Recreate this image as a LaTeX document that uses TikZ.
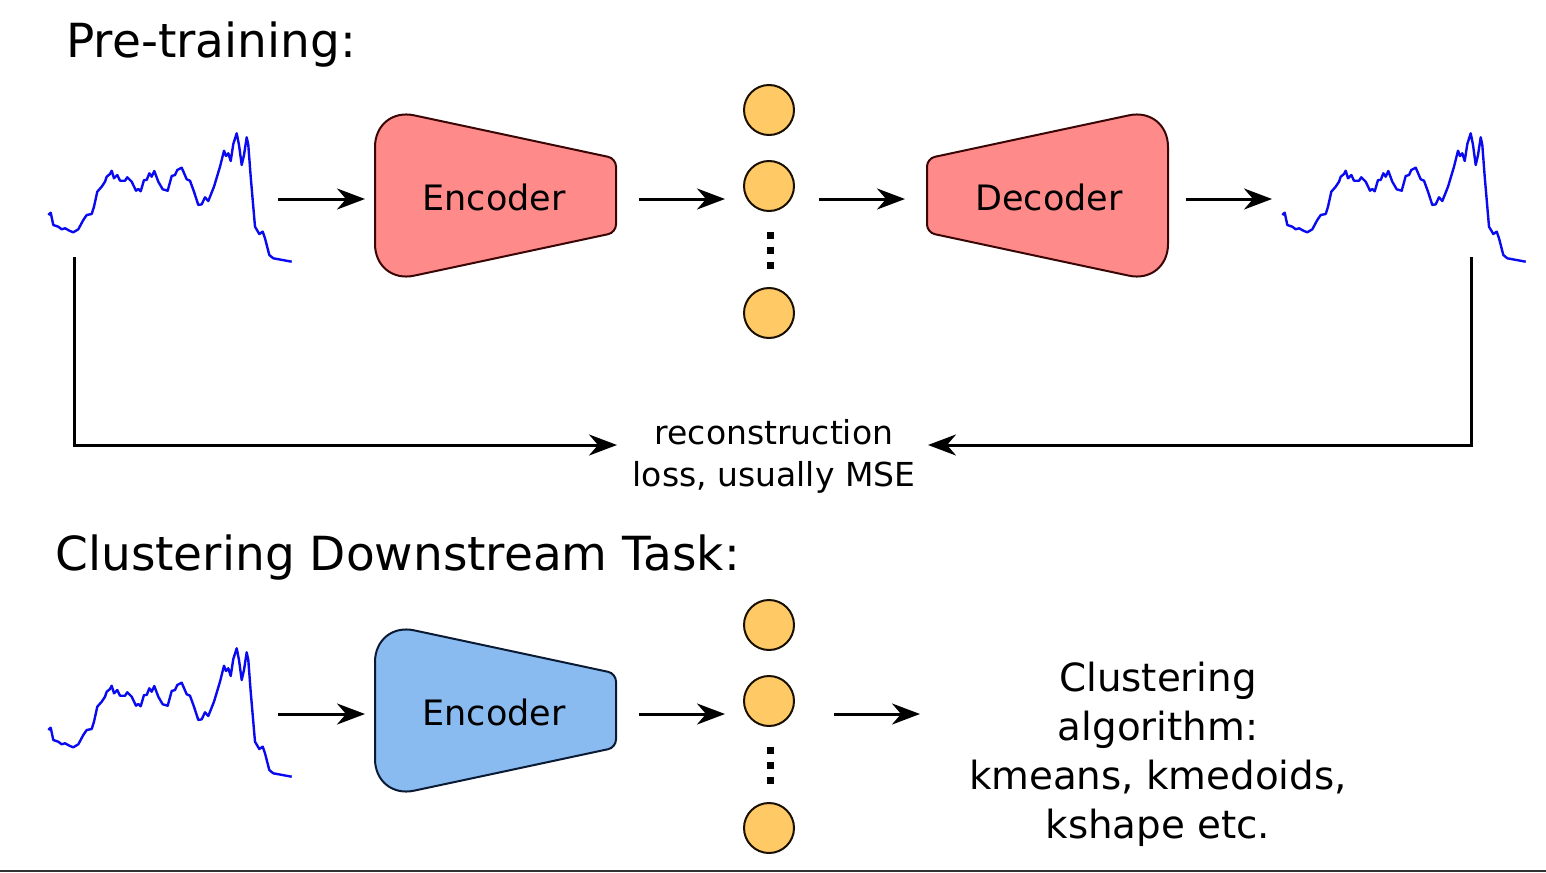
\documentclass[tikz,border=0pt]{standalone}
\usepackage{fontspec}
\setmainfont{DejaVu Sans}
\usetikzlibrary{arrows.meta}
\definecolor{encred}{HTML}{FF8A8A}
\definecolor{encredline}{HTML}{3A0505}
\definecolor{encblue}{HTML}{8ABBF0}
\definecolor{encblueline}{HTML}{0A1A33}
\definecolor{latent}{HTML}{FFC966}
\definecolor{latentline}{HTML}{1A1000}
\definecolor{sigblue}{HTML}{0A0AF0}
\tikzset{
  flow/.style={line width=1.5pt,-{Stealth[length=14pt,width=10.5pt,inset=4.5pt]}},
  lossline/.style={line width=1.5pt,-{Stealth[length=14pt,width=10.5pt,inset=4.5pt]}},
  latentnode/.style={circle,draw=latentline,fill=latent,line width=1pt,minimum size=25pt,inner sep=0pt},
  dotsq/.style={rectangle,fill=black,minimum size=3.5pt,inner sep=0pt},
  boxlabel/.style={font=\fontsize{17.5pt}{20pt}\selectfont,inner sep=0pt},
  title/.style={font=\fontsize{23.5pt}{27pt}\selectfont,anchor=base west,inner sep=0pt},
  signal/.pic={
    \draw[sigblue,line width=1.2pt,line join=round] plot coordinates {
      (48.3,215) (50.7,212.7) (53.3,225) (58.3,226.7) (61.7,229.3) (65,228.3)
      (70,231) (73.3,232.3) (78.3,229.3) (83.3,220) (86.7,215) (91.7,214)
      (94,206.7) (97.3,191.7) (101.7,186.7) (105,181.7) (106.7,176.7) (110,174)
      (111.7,170.7) (114,178.3) (117.3,175) (120,180.7) (125,180.7) (127.3,177.3)
      (131.7,181.7) (136,190.7) (138.3,189) (140.7,191.3) (144,180) (146.7,180)
      (149.3,173.3) (151.7,176.7) (154.3,171) (158.3,181.7) (162.7,189.3)
      (167.7,190.7) (171.7,176) (175,175) (177.3,170) (181.7,167.7) (186.7,179.3)
      (190,180.7) (194,191.7) (198.3,205) (201.7,204.3) (205,197.3) (208.3,201)
      (214,186.7) (220,166.7) (224,150.7) (226,156) (228.3,153.3) (230.7,161)
      (233.3,144) (236.7,133.3) (239,145) (241.7,165) (244,155) (246.7,137.3)
      (248.3,145) (250.7,176.7) (255,226.7) (259.3,234) (262.7,231.7) (265,238.3)
      (269.3,255) (273.3,258.3) (291.7,261.7)};
  }
}
\begin{document}
\begin{tikzpicture}[x=0.5pt,y=-0.5pt]
\useasboundingbox (0,0) rectangle (1546,872);
% titles
\node[title] (t1) at (66,58) {Pre-training:};
\node[title] (t2) at (55,570) {Clustering Downstream Task:};
% signals
\pic at (0,0) {signal};
\pic at (1234,0) {signal};
\pic at (0,515) {signal};
% top encoder
\draw[fill=encred,draw=encredline,line width=1pt]
  (375,195.5) [rounded corners=20pt] -- (375,107) -- (496,132.8)
  [rounded corners=4pt] -- (616,158.5) -- (616,232.5) -- (496,258.2)
  [rounded corners=20pt] -- (375,284) -- cycle;
\node[boxlabel] (enc1) at (494,197) {Encoder};
% decoder
\draw[fill=encred,draw=encredline,line width=1pt]
  (1168,195.5) [rounded corners=20pt] -- (1168,107) -- (1047,132.8)
  [rounded corners=4pt] -- (927,158.5) -- (927,232.5) -- (1047,258.2)
  [rounded corners=20pt] -- (1168,284) -- cycle;
\node[boxlabel] (dec1) at (1049,197) {Decoder};
% bottom encoder
\draw[fill=encblue,draw=encblueline,line width=1pt]
  (375,710.5) [rounded corners=20pt] -- (375,622) -- (496,647.8)
  [rounded corners=4pt] -- (616,673.5) -- (616,747.5) -- (496,773.2)
  [rounded corners=20pt] -- (375,799) -- cycle;
\node[boxlabel] (enc2) at (494,712) {Encoder};
% latent nodes top
\node[latentnode] (z1) at (769,110) {};
\node[latentnode] (z2) at (769,186) {};
\node[latentnode] (z3) at (769,313) {};
\node[dotsq] (d1) at (770,235) {};
\node[dotsq] (d2) at (770,250) {};
\node[dotsq] (d3) at (770,265) {};
% latent nodes bottom
\node[latentnode] (w1) at (769,625) {};
\node[latentnode] (w2) at (769,701) {};
\node[latentnode] (w3) at (769,828) {};
\node[dotsq] (e1) at (770,750) {};
\node[dotsq] (e2) at (770,765) {};
\node[dotsq] (e3) at (770,780) {};
% arrow coordinates
\coordinate (a1s) at (278,199); \coordinate (a1e) at (365,199);
\coordinate (a2s) at (639,199); \coordinate (a2e) at (725,199);
\coordinate (a3s) at (819,199); \coordinate (a3e) at (905,199);
\coordinate (a4s) at (1186,199); \coordinate (a4e) at (1272,199);
\coordinate (b1s) at (278,714); \coordinate (b1e) at (365,714);
\coordinate (b2s) at (639,714); \coordinate (b2e) at (725,714);
\coordinate (b3s) at (834,714); \coordinate (b3e) at (920,714);
\draw[flow] (a1s) -- (a1e);
\draw[flow] (a2s) -- (a2e);
\draw[flow] (a3s) -- (a3e);
\draw[flow] (a4s) -- (a4e);
\draw[flow] (b1s) -- (b1e);
\draw[flow] (b2s) -- (b2e);
\draw[flow] (b3s) -- (b3e);
% loss
\node[font=\fontsize{16.5pt}{21pt}\selectfont,align=center,inner sep=0pt] (loss) at (774,456)
  {reconstruction\\loss, usually MSE};
\coordinate (l1) at (74,257); \coordinate (l1e) at (617,445);
\coordinate (r1) at (1471,257); \coordinate (r1e) at (928,445);
\draw[lossline] (l1) |- (l1e);
\draw[lossline] (r1) |- (r1e);
% clustering text
\node[font=\fontsize{19.4pt}{24.5pt}\selectfont,align=center,inner sep=0pt] (clu) at (1158,754)
  {Clustering\\algorithm:\\kmeans, kmedoids,\\kshape etc.};
% bottom rule
\coordinate (bl) at (0,871); \coordinate (br) at (1546,871);
\draw[line width=1pt,draw=black!80] (bl) -- (br);
\end{tikzpicture}
\end{document}
